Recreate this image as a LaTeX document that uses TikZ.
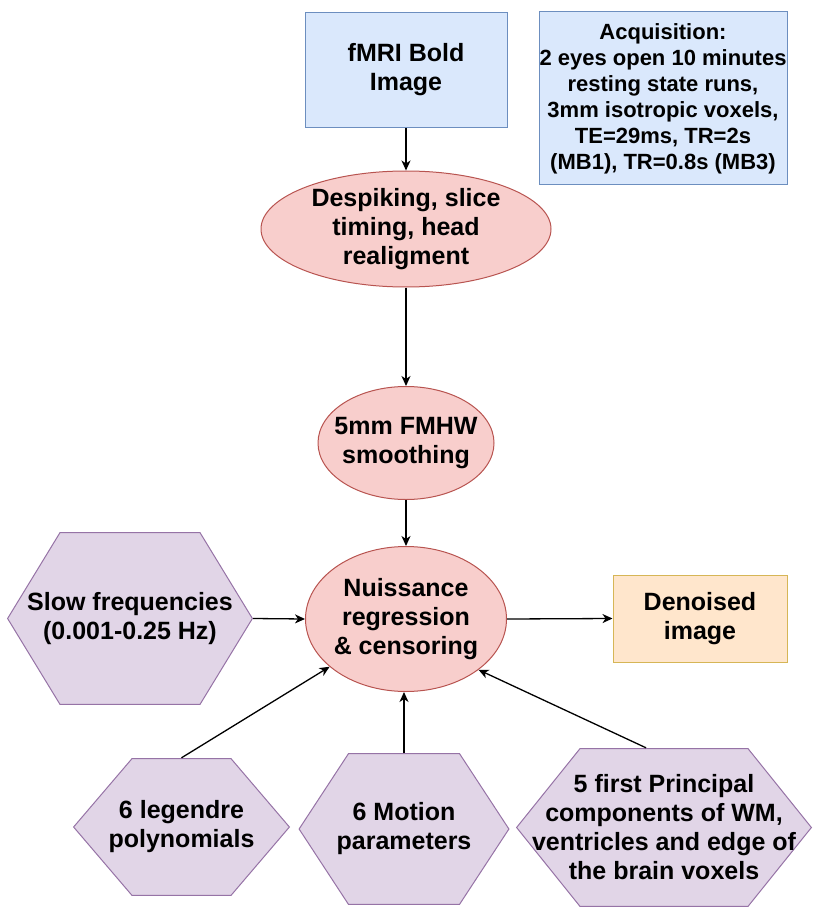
\documentclass[tikz,border=0pt]{standalone}
\usepackage{fontspec}
\setmainfont{Liberation Sans}
\usetikzlibrary{shapes.geometric,arrows.meta}
\definecolor{bluefill}{HTML}{DAE8FC}
\definecolor{blueline}{HTML}{6C8EBF}
\definecolor{redfill}{HTML}{F8CECC}
\definecolor{redline}{HTML}{B85450}
\definecolor{purplefill}{HTML}{E1D5E7}
\definecolor{purpleline}{HTML}{9673A6}
\definecolor{orangefill}{HTML}{FFE6CC}
\definecolor{orangeline}{HTML}{D6B656}
\newcommand\hexcutlen{50pt}
\begin{document}
\begin{tikzpicture}[x=1pt,y=-1pt,
  every node/.style={font=\fontsize{25}{29}\selectfont\bfseries, align=center, text=black},
  bluebox/.style={draw=blueline, fill=bluefill, line width=1pt, inner sep=0pt},
  orangebox/.style={draw=orangeline, fill=orangefill, line width=1pt, inner sep=0pt},
  stepell/.style={ellipse, draw=redline, fill=redfill, line width=1pt, inner sep=-10pt},
  hexcut/.code={\def\hexcutlen{#1}},
  hexbox/.style={inner sep=0pt, path picture={
    \draw[draw=purpleline, fill=purplefill, line width=1pt]
      ([xshift=0.6pt]path picture bounding box.west)
      -- ([xshift=\hexcutlen, yshift=-0.6pt]path picture bounding box.north west)
      -- ([xshift=-\hexcutlen, yshift=-0.6pt]path picture bounding box.north east)
      -- ([xshift=-0.6pt]path picture bounding box.east)
      -- ([xshift=-\hexcutlen, yshift=0.6pt]path picture bounding box.south east)
      -- ([xshift=\hexcutlen, yshift=0.6pt]path picture bounding box.south west)
      -- cycle;}},
  arr/.style={-{Stealth[length=10pt,width=9pt,inset=3pt]}, line width=1.3pt}
]
\useasboundingbox (0,0) rectangle (828,909);

\node[bluebox, minimum width=202pt, minimum height=115pt] (fmri) at (406,70) {fMRI Bold\\Image};
\node[bluebox, minimum width=248pt, minimum height=173pt,
  font=\fontsize{22}{26}\selectfont\bfseries] (acq) at (663,98.5)
  {Acquisition:\\2 eyes open 10 minutes\\resting state runs,\\3mm isotropic voxels,\\TE=29ms, TR=2s\\(MB1), TR=0.8s (MB3)};

\node[stepell, minimum width=290pt, minimum height=116pt] (desp) at (406,229) {Despiking, slice\\timing, head\\realigment};
\node[stepell, minimum width=176pt, minimum height=113pt] (smooth) at (406,443) {5mm FMHW\\smoothing};
\node[stepell, minimum width=201pt, minimum height=145pt] (nuis) at (406,619) {Nuissance\\regression\\\& censoring};

\node[orangebox, minimum width=174pt, minimum height=87pt] (denoised) at (700,618.5) {Denoised\\image};

\node[hexbox, hexcut=53pt, minimum width=246pt, minimum height=173pt] (slow) at (130,618.5) {Slow frequencies\\(0.001-0.25 Hz)};
\node[hexbox, hexcut=59pt, minimum width=217pt, minimum height=138pt] (legendre) at (181.5,827) {6 legendre\\polynomials};
\node[hexbox, hexcut=50pt, minimum width=211pt, minimum height=152pt] (motion) at (404,829) {6 Motion\\parameters};
\node[hexbox, hexcut=64pt, minimum width=296pt, minimum height=159pt] (pca) at (664,827.5) {5 first Principal\\components of WM,\\ventricles and edge of\\the brain voxels};

\draw[arr] (fmri.south) -- (fmri.south |- desp.north);
\draw[arr] (desp.south) -- (smooth.north);
\draw[arr] (smooth.south) -- (nuis.north);
\draw[arr] (nuis.east) -- (denoised.west);
\draw[arr] (slow.east) -- (nuis.west);
\draw[arr] (legendre.north) -- (nuis.212);
\draw[arr] (motion.north) -- (motion.north |- nuis.south);
\draw[arr] ([xshift=-18pt]pca.north) -- (nuis.325);
\end{tikzpicture}
\end{document}
